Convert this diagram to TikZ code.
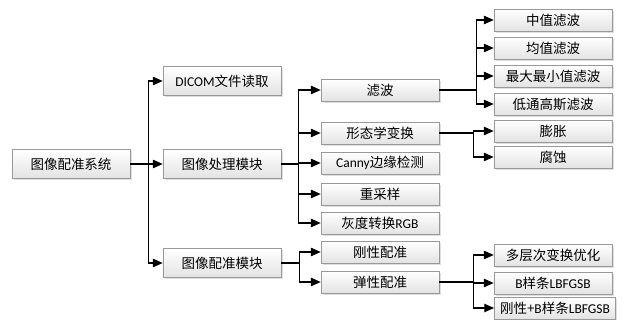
\documentclass[tikz,border=0pt]{standalone}
\usepackage{fontspec}
\setmainfont{Carlito}
\newfontfamily\cjk{Noto Sans CJK SC}
\newcommand{\latn}[1]{{\rmfamily #1}}
\usepackage{tikz}
\usetikzlibrary{arrows.meta, shadows}

\begin{document}
\begin{tikzpicture}[
  x=0.025cm, y=-0.025cm,
  box/.style={draw=gray!80, top color=white, bottom color=gray!22, drop shadow={shadow xshift=1.2pt, shadow yshift=-1.2pt, fill=gray!50}, minimum width=2.95cm, minimum height=0.55cm, inner sep=1pt, font=\fontsize{9.6}{11}\selectfont\cjk},
  tall/.style={minimum height=0.72cm},
  arr/.style={-{Triangle[length=7pt, width=6pt]}, line width=0.8pt}
]
  \useasboundingbox (0,0) rectangle (625,320);

  % root and first level
  \node[box, tall] (root) at (71,164) {图像配准系统};
  \node[box, tall] (dicom) at (222,81) {\latn{DICOM}文件读取};
  \node[box, tall] (proc) at (222,164) {图像处理模块};
  \node[box, tall] (reg) at (222,263) {图像配准模块};

  % second level
  \node[box] (filt) at (380,90) {滤波};
  \node[box] (morph) at (380,133) {形态学变换};
  \node[box] (canny) at (380,163) {\latn{Canny}边缘检测};
  \node[box] (resamp) at (380,194) {重采样};
  \node[box] (gray) at (380,223) {灰度转换\latn{RGB}};
  \node[box] (rigid) at (380,252) {刚性配准};
  \node[box] (elastic) at (380,282) {弹性配准};

  % third level
  \node[box] (median) at (553,20) {中值滤波};
  \node[box] (mean) at (553,48) {均值滤波};
  \node[box] (maxmin) at (553,76) {最大最小值滤波};
  \node[box] (lowpass) at (553,104) {低通高斯滤波};
  \node[box] (dilate) at (553,131) {膨胀};
  \node[box] (erode) at (553,157) {腐蚀};
  \node[box] (multi) at (553,255) {多层次变换优化};
  \node[box] (bspline) at (553,283) {\latn{B}样条\latn{LBFGSB}};
  \node[box, minimum width=3.03cm] (rigidb) at (555,308) {刚性+\latn{B}样条\latn{LBFGSB}};

  % connectors
  \foreach \n in {dicom, proc, reg}
    \draw[arr] (root.east) -- +(18,0) |- (\n.west);
  \foreach \n in {filt, morph, canny, resamp, gray}
    \draw[arr] (proc.east) -- +(17,0) |- (\n.west);
  \foreach \n in {rigid, elastic}
    \draw[arr] (reg.east) -- +(18,0) |- (\n.west);
  \foreach \n in {median, mean, maxmin, lowpass}
    \draw[arr] (filt.east) -- +(37,0) |- (\n.west);
  \foreach \n in {dilate, erode}
    \draw[arr] (morph.east) -- +(34,0) |- (\n.west);
  \foreach \n in {multi, bspline, rigidb}
    \draw[arr] (elastic.east) -- +(34,0) |- (\n.west);
\end{tikzpicture}
\end{document}
